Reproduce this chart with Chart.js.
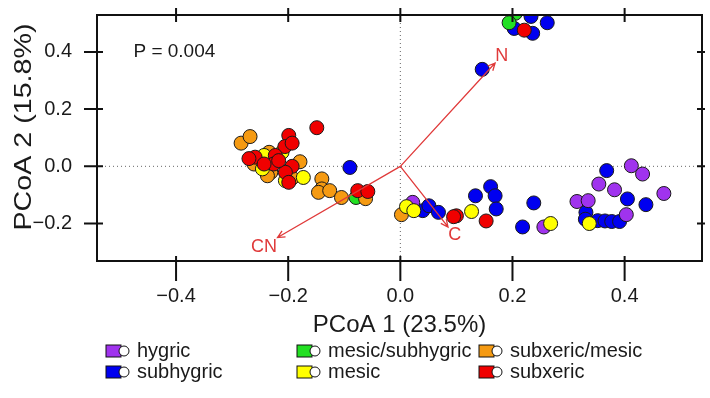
<!DOCTYPE html>
<html lang="en">
<head>
    <meta charset="UTF-8">
    <title>PCoA</title>
    <script src="https://cdn.jsdelivr.net/npm/chart.js"></script>
    <style>
        body { margin: 0; background: #fff; font-family: "Liberation Sans", Arial, sans-serif; }
        canvas { display: block; }
    </style>
</head>
<body>
    <canvas id="pcoa" width="710" height="398"></canvas>

    <script>
        // tick labels
        const xTicks = [-0.4, -0.2, 0, 0.2, 0.4];
        const yTicks = [-0.2, 0, 0.2, 0.4];

        // groups (legend order)
        const groupNames = ['hygric', 'subhygric', 'mesic/subhygric', 'mesic', 'subxeric/mesic', 'subxeric'];
        const groupColors = ['#a033ee', '#0000f0', '#22e022', '#ffff00', '#f59a12', '#f00000'];
        const drawOrder = [4, 5, 3, 1, 2, 0]; // lower = on top

        // site scores [PCoA1, PCoA2]
        const hygric = [[0.412, 0.002], [0.432, -0.027], [0.354, -0.062], [0.382, -0.082], [0.470, -0.095],
            [0.315, -0.123], [0.335, -0.120], [0.403, -0.169], [0.256, -0.212], [0.022, -0.126]];
        const subhygric = [[0.368, -0.015], [0.405, -0.114], [0.438, -0.134], [0.331, -0.161], [0.330, -0.185],
            [0.352, -0.190], [0.365, -0.191], [0.377, -0.193], [0.391, -0.193], [0.238, -0.128], [0.218, -0.212],
            [0.040, -0.155], [0.051, -0.138], [0.068, -0.161], [0.134, -0.103], [0.161, -0.071], [0.169, -0.103],
            [0.171, -0.149], [0.146, 0.339], [0.203, 0.482], [0.236, 0.465], [0.233, 0.524], [0.262, 0.502],
            [-0.090, -0.004]];
        const mesicSubhygric = [[0.205, 0.535], [0.194, 0.502], [-0.079, -0.109]];
        const mesic = [[0.011, -0.141], [0.024, -0.155], [0.127, -0.158], [0.268, -0.200], [0.337, -0.200],
            [-0.173, -0.039], [-0.205, -0.050], [-0.246, -0.009], [-0.211, 0.049], [-0.243, 0.038]];
        const subxericMesic = [[0.002, -0.169], [-0.284, 0.081], [-0.268, 0.104], [-0.179, 0.016], [-0.193, -0.041],
            [-0.231, -0.021], [-0.234, 0.049], [-0.261, 0.008], [-0.237, -0.033], [-0.140, -0.044], [-0.140, -0.079],
            [-0.146, -0.091], [-0.126, -0.085], [-0.105, -0.109], [-0.062, -0.113]];
        const subxeric = [[-0.149, 0.135], [-0.199, 0.108], [-0.206, 0.069], [-0.193, 0.081], [-0.259, 0.032],
            [-0.223, 0.038], [-0.226, 0.008], [-0.193, 0.000], [-0.205, -0.021], [-0.243, 0.008], [-0.270, 0.027],
            [-0.199, -0.056], [-0.217, 0.020], [-0.076, -0.085], [-0.058, -0.088], [0.100, -0.173], [0.095, -0.176],
            [0.153, -0.191], [0.221, 0.476]];
        const groups = [hygric, subhygric, mesicSubhygric, mesic, subxericMesic, subxeric];

        // fitted vectors
        const vecNames = ['N', 'C', 'CN'];
        const vecTips = [[0.169, 0.361], [0.085, -0.212], [-0.219, -0.249]];
        const vecLabels = [[0.181, 0.385], [0.097, -0.241], [-0.243, -0.282]];

        const FONT = '"Liberation Sans", Arial, sans-serif';
        const fmt = v => v.toFixed(1).replace('-', '\u2212');

        const extras = {
            id: 'extras',
            beforeDatasetsDraw(chart) {
                const { ctx, chartArea: a, scales: { x, y } } = chart;
                ctx.save();
                ctx.strokeStyle = '#666';
                ctx.lineWidth = 1;
                ctx.setLineDash([1, 3]);
                ctx.beginPath();
                ctx.moveTo(a.left, y.getPixelForValue(0));
                ctx.lineTo(a.right, y.getPixelForValue(0));
                ctx.moveTo(x.getPixelForValue(0), a.top);
                ctx.lineTo(x.getPixelForValue(0), a.bottom);
                ctx.stroke();
                ctx.restore();
            },
            afterDatasetsDraw(chart) {
                const { ctx, chartArea: a, scales: { x, y } } = chart;
                ctx.save();

                // arrows
                const ox = x.getPixelForValue(0), oy = y.getPixelForValue(0);
                ctx.strokeStyle = '#e03a3a';
                ctx.fillStyle = '#e03a3a';
                ctx.lineWidth = 1.3;
                vecTips.forEach((t, i) => {
                    const tx = x.getPixelForValue(t[0]), ty = y.getPixelForValue(t[1]);
                    const ang = Math.atan2(ty - oy, tx - ox);
                    ctx.beginPath();
                    ctx.moveTo(ox, oy);
                    ctx.lineTo(tx, ty);
                    ctx.moveTo(tx - 8 * Math.cos(ang - 0.45), ty - 8 * Math.sin(ang - 0.45));
                    ctx.lineTo(tx, ty);
                    ctx.lineTo(tx - 8 * Math.cos(ang + 0.45), ty - 8 * Math.sin(ang + 0.45));
                    ctx.stroke();
                    ctx.font = '18px ' + FONT;
                    ctx.textAlign = 'center';
                    ctx.textBaseline = 'middle';
                    ctx.fillText(vecNames[i], x.getPixelForValue(vecLabels[i][0]), y.getPixelForValue(vecLabels[i][1]));
                });

                // P value
                ctx.fillStyle = '#1a1a1a';
                ctx.font = '19px ' + FONT;
                ctx.textAlign = 'left';
                ctx.fillText('P = 0.004', x.getPixelForValue(-0.476), y.getPixelForValue(0.4));

                // box and ticks
                ctx.strokeStyle = '#111';
                ctx.lineWidth = 2;
                ctx.strokeRect(a.left, a.top, a.right - a.left, a.bottom - a.top);
                ctx.beginPath();
                xTicks.forEach(v => {
                    const px = x.getPixelForValue(v);
                    ctx.moveTo(px, a.bottom - 5); ctx.lineTo(px, a.bottom + 20);
                    ctx.moveTo(px, a.top - 7); ctx.lineTo(px, a.top + 7);
                });
                yTicks.forEach(v => {
                    const py = y.getPixelForValue(v);
                    ctx.moveTo(a.left - 13, py); ctx.lineTo(a.left + 6, py);
                    ctx.moveTo(a.right - 5, py); ctx.lineTo(a.right + 3, py);
                });
                ctx.stroke();

                // axis titles
                ctx.fillStyle = '#1a1a1a';
                ctx.font = '24px ' + FONT;
                ctx.textAlign = 'center';
                ctx.fillText('PCoA 1 (23.5%)', (a.left + a.right) / 2, 325);
                const yt = 'PCoA 2 (15.8%)';
                const w = ctx.measureText(yt).width;
                ctx.translate(24, 127);
                ctx.rotate(-Math.PI / 2);
                ctx.scale(207 / w, 1);
                ctx.fillText(yt, 0, 0);
                ctx.setTransform(1, 0, 0, 1, 0, 0);

                // legend
                const colX = [106, 297, 479];
                const rowY = [351, 372];
                ctx.font = '20px ' + FONT;
                ctx.textAlign = 'left';
                ctx.lineWidth = 1;
                groupNames.forEach((name, i) => {
                    const cx = colX[Math.floor(i / 2)], cy = rowY[i % 2];
                    ctx.fillStyle = groupColors[i];
                    ctx.fillRect(cx, cy - 6, 15, 12);
                    ctx.strokeStyle = '#111';
                    ctx.strokeRect(cx, cy - 6, 15, 12);
                    ctx.beginPath();
                    ctx.arc(cx + 18, cy, 5, 0, Math.PI * 2);
                    ctx.fillStyle = '#fff';
                    ctx.fill();
                    ctx.stroke();
                    ctx.fillStyle = '#1a1a1a';
                    ctx.fillText(name, cx + 31, cy);
                });
                ctx.restore();
            }
        };

        new Chart(document.getElementById('pcoa'), {
            type: 'scatter',
            data: {
                datasets: groups.map((pts, i) => ({
                    label: groupNames[i],
                    data: pts.map(p => ({ x: p[0], y: p[1] })),
                    backgroundColor: groupColors[i],
                    borderColor: '#1a1a1a',
                    borderWidth: 1,
                    pointRadius: 7,
                    order: drawOrder[i],
                    clip: 0
                }))
            },
            options: {
                responsive: false,
                animation: false,
                events: [],
                layout: { padding: { top: 15, right: 2, left: 0, bottom: 0 } },
                plugins: { legend: { display: false }, tooltip: { enabled: false } },
                scales: {
                    x: {
                        type: 'linear', min: -0.541, max: 0.538,
                        afterBuildTicks: s => { s.ticks = xTicks.map(v => ({ value: v })); },
                        afterFit: s => { s.height = 137; s.paddingLeft = 0; s.paddingRight = 0; },
                        grid: { display: false, drawTicks: false },
                        border: { display: false },
                        ticks: { padding: 23, color: '#1a1a1a', font: { size: 20, family: FONT }, callback: v => fmt(v) }
                    },
                    y: {
                        type: 'linear', min: -0.331, max: 0.529,
                        afterBuildTicks: s => { s.ticks = yTicks.map(v => ({ value: v })); },
                        afterFit: s => { s.width = 97; s.paddingTop = 0; s.paddingBottom = 0; },
                        grid: { display: false, drawTicks: false },
                        border: { display: false },
                        ticks: { padding: 25, color: '#1a1a1a', font: { size: 20, family: FONT }, callback: v => fmt(v) }
                    }
                }
            },
            plugins: [extras]
        });
    </script>
</body>
</html>
